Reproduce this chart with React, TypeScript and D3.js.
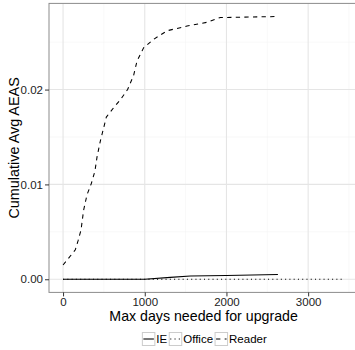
import React, { useEffect, useRef } from 'react';
import * as d3 from 'd3';

// series values: [days, cumulative avg AEAS]
const readerDays = [0, 150, 185, 220, 252, 293, 346, 390, 416, 457, 530, 620, 700, 790, 864, 905, 986, 1109, 1273, 1518, 1766, 1925, 2000, 2620];
const readerVals = [0.0015, 0.0031, 0.0041, 0.0052, 0.0073, 0.0089, 0.0101, 0.0114, 0.0129, 0.0146, 0.0171, 0.0181, 0.0189, 0.0200, 0.0215, 0.0230, 0.0244, 0.0253, 0.0262, 0.0267, 0.0271, 0.0276, 0.0276, 0.0277];
const ieDays = [0, 1000, 1313, 1558, 2000, 2630];
const ieVals = [0, 0, 0.0002, 0.00035, 0.0004, 0.0005];
const officeDays = [0, 3440];
const officeVals = [0, 0];

const xTicks = [0, 1000, 2000, 3000];
const xMinor = [500, 1500, 2500, 3500];
const yTicks = [0, 0.01, 0.02];
const yMinor = [0.005, 0.015, 0.025];

const FONT = '"Liberation Sans", Arial, Helvetica, sans-serif';

const App = () => {
  const svgRef = useRef<SVGSVGElement>(null);

  useEffect(() => {
    const svg = d3.select(svgRef.current);
    svg.selectAll('*').remove();

    const series = [
      { name: 'IE', dash: null, data: ieDays.map((d, i) => [d, ieVals[i]]) },
      { name: 'Office', dash: '1.07,3.2', data: officeDays.map((d, i) => [d, officeVals[i]]) },
      { name: 'Reader', dash: '4.3,4.3', data: readerDays.map((d, i) => [d, readerVals[i]]) },
    ];

    const allX = [...readerDays, ...ieDays, ...officeDays];
    const allY = [...readerVals, ...ieVals, ...officeVals];
    const [x0, x1] = d3.extent(allX) as [number, number];
    const [y0, y1] = d3.extent(allY) as [number, number];
    const ex = (x1 - x0) * 0.05;
    const ey = (y1 - y0) * 0.05;

    const left = 49;
    const pxPerDay = 0.0817;
    const right = left + (x1 - x0 + 2 * ex) * pxPerDay;
    const top = 3.4;
    const bottom = 292.4;

    const x = d3.scaleLinear().domain([x0 - ex, x1 + ex]).range([left, right]);
    const y = d3.scaleLinear().domain([y0 - ey, y1 + ey]).range([bottom, top]);

    svg.append('defs').append('clipPath').attr('id', 'panel')
      .append('rect').attr('x', left).attr('y', top).attr('width', right - left).attr('height', bottom - top);

    // grid
    const grid = svg.append('g');
    grid.selectAll('.xm').data(xMinor).join('line')
      .attr('x1', d => x(d)).attr('x2', d => x(d)).attr('y1', top).attr('y2', bottom)
      .attr('stroke', '#f3f3f3').attr('stroke-width', 0.6);
    grid.selectAll('.ym').data(yMinor).join('line')
      .attr('x1', left).attr('x2', right).attr('y1', d => y(d)).attr('y2', d => y(d))
      .attr('stroke', '#f3f3f3').attr('stroke-width', 0.6);
    grid.selectAll('.xM').data(xTicks).join('line')
      .attr('x1', d => x(d)).attr('x2', d => x(d)).attr('y1', top).attr('y2', bottom)
      .attr('stroke', '#e5e5e5').attr('stroke-width', 1.1);
    grid.selectAll('.yM').data(yTicks).join('line')
      .attr('x1', left).attr('x2', right).attr('y1', d => y(d)).attr('y2', d => y(d))
      .attr('stroke', '#e5e5e5').attr('stroke-width', 1.1);

    const line = d3.line<number[]>().x(d => x(d[0])).y(d => y(d[1]));
    const lines = svg.append('g').attr('clip-path', 'url(#panel)');
    series.forEach(s => {
      lines.append('path')
        .attr('d', line(s.data))
        .attr('fill', 'none')
        .attr('stroke', '#000')
        .attr('stroke-width', 1.07)
        .attr('stroke-dasharray', s.dash);
    });

    svg.append('rect')
      .attr('x', left).attr('y', top).attr('width', right - left).attr('height', bottom - top)
      .attr('fill', 'none').attr('stroke', '#8c8c8c').attr('stroke-width', 1);

    // axes
    const xAxis = svg.append('g')
      .attr('transform', `translate(0,${bottom})`)
      .call(d3.axisBottom(x).tickValues(xTicks).tickSize(4).tickPadding(1).tickFormat(d3.format('d')));
    const yAxis = svg.append('g')
      .attr('transform', `translate(${left},0)`)
      .call(d3.axisLeft(y).tickValues(yTicks).tickSize(4).tickPadding(2).tickFormat(d3.format('.2f')));
    [xAxis, yAxis].forEach(a => {
      a.select('.domain').remove();
      a.selectAll('line').attr('stroke', '#333');
      a.selectAll('text').attr('fill', '#222').style('font-family', FONT).style('font-size', '11.5px');
    });

    svg.append('text')
      .attr('x', (left + right) / 2).attr('y', 320.8)
      .attr('text-anchor', 'middle')
      .style('font-family', FONT).style('font-size', '14.2px')
      .text('Max days needed for upgrade');

    svg.append('text')
      .attr('transform', `translate(19.3,${(top + bottom) / 2}) rotate(-90)`)
      .attr('text-anchor', 'middle')
      .style('font-family', FONT).style('font-size', '14.4px')
      .text('Cumulative Avg AEAS');

    // legend
    const legend = svg.append('g');
    const keyW = 12.5;
    const keyH = 13;
    const cy = 339;
    let cursor = 0;
    series.forEach(s => {
      const g = legend.append('g').attr('transform', `translate(${cursor},0)`);
      g.append('rect').attr('x', 0).attr('y', cy - keyH / 2).attr('width', keyW).attr('height', keyH)
        .attr('fill', '#fff').attr('stroke', '#cccccc').attr('stroke-width', 1);
      g.append('line').attr('x1', 1).attr('x2', keyW - 1).attr('y1', cy).attr('y2', cy)
        .attr('stroke', '#000').attr('stroke-width', 1.07).attr('stroke-dasharray', s.dash);
      const t = g.append('text').attr('x', keyW + 1.5).attr('y', cy + 4.1)
        .style('font-family', FONT).style('font-size', '11.5px').text(s.name);
      const w = (t.node() as SVGTextElement).getComputedTextLength();
      cursor += keyW + 1.5 + w + 2;
    });
    const total = cursor - 2;
    legend.attr('transform', `translate(${(left + right) / 2 - total / 2 + 1},0)`);
  }, []);

  return (
    <div style={{ position: 'absolute', left: 0, top: 0 }}>
      <svg ref={svgRef} width={355} height={350} style={{ display: 'block', background: '#fff' }} />
    </div>
  );
};

export default App;
